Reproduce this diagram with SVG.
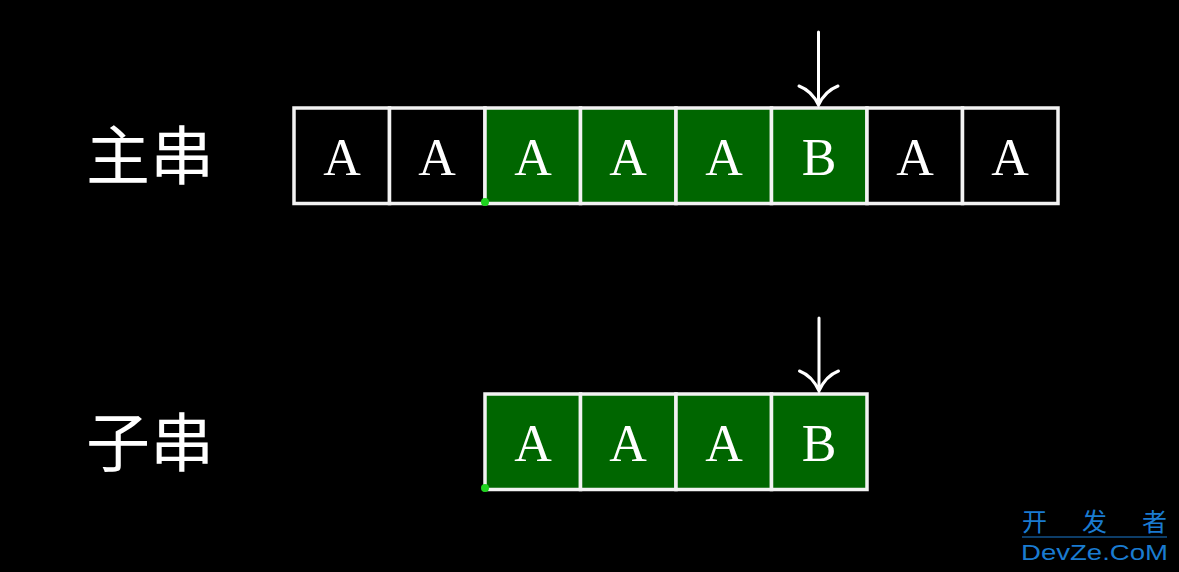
<svg xmlns="http://www.w3.org/2000/svg" width="1179" height="572" viewBox="0 0 1179 572">
<style>
.cell{stroke:#f2f2f2;stroke-width:3.5}
.blk{fill:#000}
.grn{fill:#006600}
.ch{font-family:"Liberation Serif","DejaVu Serif",serif;font-size:52px;fill:#fff;text-anchor:middle}
.lbl{font-family:"Noto Sans CJK SC","Noto Sans",sans-serif;font-size:64px;fill:#fff}
.arr{stroke:#fff;stroke-width:3;fill:none;stroke-linecap:round}
.dot{fill:#1ed31e}
.wm{fill:#1a7bd0}
</style>
<rect width="1179" height="572" fill="#000"/>
<g id="label-main"><text class="lbl" x="86" y="179">主串</text></g>
<g id="label-sub"><text class="lbl" x="86" y="466">子串</text></g>
<g id="main-string">
<rect class="cell blk" x="294" y="108" width="95.5" height="95.5"/>
<rect class="cell blk" x="389.5" y="108" width="95.5" height="95.5"/>
<rect class="cell grn" x="485" y="108" width="95.5" height="95.5"/>
<rect class="cell grn" x="580.5" y="108" width="95.5" height="95.5"/>
<rect class="cell grn" x="676" y="108" width="95.5" height="95.5"/>
<rect class="cell grn" x="771.5" y="108" width="95.5" height="95.5"/>
<rect class="cell blk" x="867" y="108" width="95.5" height="95.5"/>
<rect class="cell blk" x="962.5" y="108" width="95.5" height="95.5"/>
<text class="ch" x="342" y="175">A</text>
<text class="ch" x="437" y="175">A</text>
<text class="ch" x="533" y="175">A</text>
<text class="ch" x="628" y="175">A</text>
<text class="ch" x="724" y="175">A</text>
<text class="ch" x="819" y="175">B</text>
<text class="ch" x="915" y="175">A</text>
<text class="ch" x="1010" y="175">A</text>
<circle class="dot" cx="485" cy="202" r="4"/>
</g>
<g id="sub-string">
<rect class="cell grn" x="485" y="394" width="95.5" height="95.5"/>
<rect class="cell grn" x="580.5" y="394" width="95.5" height="95.5"/>
<rect class="cell grn" x="676" y="394" width="95.5" height="95.5"/>
<rect class="cell grn" x="771.5" y="394" width="95.5" height="95.5"/>
<text class="ch" x="533" y="461">A</text>
<text class="ch" x="628" y="461">A</text>
<text class="ch" x="724" y="461">A</text>
<text class="ch" x="819" y="461">B</text>
<circle class="dot" cx="485" cy="488" r="4"/>
</g>
<g id="connectors">
<path class="arr" d="M818.5,32 V105 M799,86 Q812,91 818.5,105 Q825,91 838,86"/>
<path class="arr" d="M819,318 V391 M799.5,371 Q812.5,376 819,391 Q825.5,376 838.5,371"/>
</g>
<g id="watermark">
<text class="wm" x="1022" y="531" font-size="25" font-family="'Noto Sans CJK SC',sans-serif" textLength="145" lengthAdjust="spacing">开 发 者</text>
<line x1="1022" y1="537" x2="1167" y2="537" stroke="#1a7bd0" stroke-width="1"/>
<text class="wm" x="1021" y="560" font-size="22" font-family="'Liberation Sans',sans-serif" textLength="147" lengthAdjust="spacingAndGlyphs">DevZe.CoM</text>
</g>
</svg>
